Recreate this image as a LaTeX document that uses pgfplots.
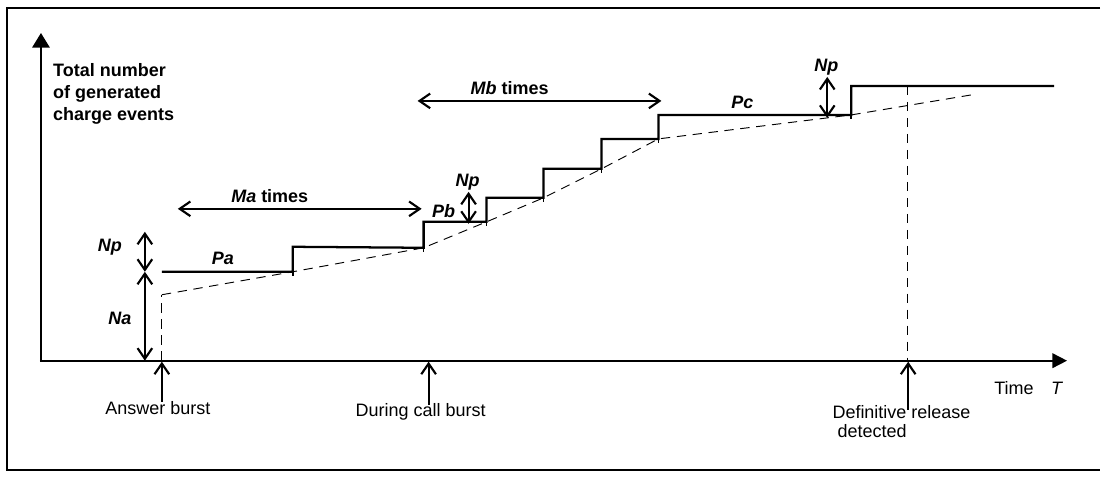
\documentclass[border=0pt]{standalone}
\usepackage{fontspec}
\setmainfont{Liberation Sans}
\usepackage{pgfplots}
\pgfplotsset{compat=1.18}
\usetikzlibrary{arrows.meta}
\begin{document}
\begin{tikzpicture}[
  lab/.style={font=\fontsize{13.5}{16}\selectfont, inner sep=0pt},
  barb/.style={line width=1.6pt, {Straight Barb[length=8pt,width=11pt]}-{Straight Barb[length=8pt,width=11pt]}},
  upbarb/.style={line width=1.6pt, -{Straight Barb[length=8pt,width=11pt]}}
]
\begin{axis}[
  scale only axis, width=825.75pt, height=360pt,
  xmin=0, xmax=1101, ymin=0, ymax=480, y dir=reverse,
  hide axis, clip=false
]
% bounding box
\path (axis cs:0,0) rectangle (axis cs:1101,480);
% frame
\draw[line width=1.5pt] (axis cs:1101,8) -- (axis cs:7,8) -- (axis cs:7,470) -- (axis cs:1101,470);
% axes
\draw[line width=1.6pt, -{Triangle[length=11pt,width=13pt]}] (axis cs:41,361) -- (axis cs:41,33);
\draw[line width=1.3pt, -{Triangle[length=11pt,width=11pt]}] (axis cs:40,361) -- (axis cs:1068,361);
% staircase
\addplot[black, line width=1.7pt] coordinates {
(162,272)(293,272)(293,247)(424,248)(424,222)(487,222)(487,198)(544,198)
(544,169)(602,169)(602,139)(659,139)(659,115)(852,115)(852,86)(1055,86)};
\addplot[black, only marks, mark=|, mark size=2.5pt, mark options={line width=1.2pt}] coordinates {
(293,273)(424,249)(487,223)(544,199)(602,170)(659,140)(852,116)};
% dashed lines
\addplot[black, line width=0.7pt, dash pattern=on 7pt off 5pt] coordinates {(162,361)(162,295)};
\addplot[black, line width=0.7pt, dash pattern=on 7pt off 5pt] coordinates {
(162,295)(293,272)(424,248)(487,222)(544,198)(602,169)(659,139)(852,115)(978,94)};
\addplot[black, line width=0.7pt, dash pattern=on 7pt off 5pt] coordinates {(908,86)(908,361)};
% double arrows
\draw[barb] (axis cs:145,232) -- (axis cs:145,272);
\draw[barb] (axis cs:145,272) -- (axis cs:145,361);
\draw[barb] (axis cs:178,209) -- (axis cs:422,209);
\draw[barb] (axis cs:469,192) -- (axis cs:469,224);
\draw[barb] (axis cs:418,101) -- (axis cs:662,101);
\draw[barb] (axis cs:828,77) -- (axis cs:828,118);
% up arrows
\draw[upbarb] (axis cs:162,402) -- (axis cs:162,362);
\draw[upbarb] (axis cs:429,405) -- (axis cs:429,362);
\draw[upbarb] (axis cs:909,410) -- (axis cs:909,362);
% labels
\node[lab, anchor=base west] at (axis cs:53,77) {\textbf{Total number}};
\node[lab, anchor=base west] at (axis cs:53,99) {\textbf{of generated}};
\node[lab, anchor=base west] at (axis cs:53,121) {\textbf{charge events}};
\node[lab, anchor=base] at (axis cs:158,415) {Answer burst};
\node[lab, anchor=base] at (axis cs:421,417) {During call burst};
\node[lab, anchor=base west] at (axis cs:833,419) {Definitive release};
\node[lab, anchor=base west] at (axis cs:838,438) {detected};
\node[lab, anchor=base west] at (axis cs:995,395) {Time};
\node[lab, anchor=base] at (axis cs:1058,395) {\textit{T}};
\node[lab, anchor=base] at (axis cs:110,252) {\textbf{\textit{Np}}};
\node[lab, anchor=base] at (axis cs:120,325) {\textbf{\textit{Na}}};
\node[lab, anchor=base] at (axis cs:223,265) {\textbf{\textit{Pa}}};
\node[lab, anchor=base] at (axis cs:270,203) {\textbf{\textit{Ma}} \textbf{times}};
\node[lab, anchor=base] at (axis cs:444,218) {\textbf{\textit{Pb}}};
\node[lab, anchor=base] at (axis cs:468,187) {\textbf{\textit{Np}}};
\node[lab, anchor=base] at (axis cs:510,95) {\textbf{\textit{Mb}} \textbf{times}};
\node[lab, anchor=base] at (axis cs:743,109) {\textbf{\textit{Pc}}};
\node[lab, anchor=base] at (axis cs:827,72) {\textbf{\textit{Np}}};
\end{axis}
\end{tikzpicture}
\end{document}
